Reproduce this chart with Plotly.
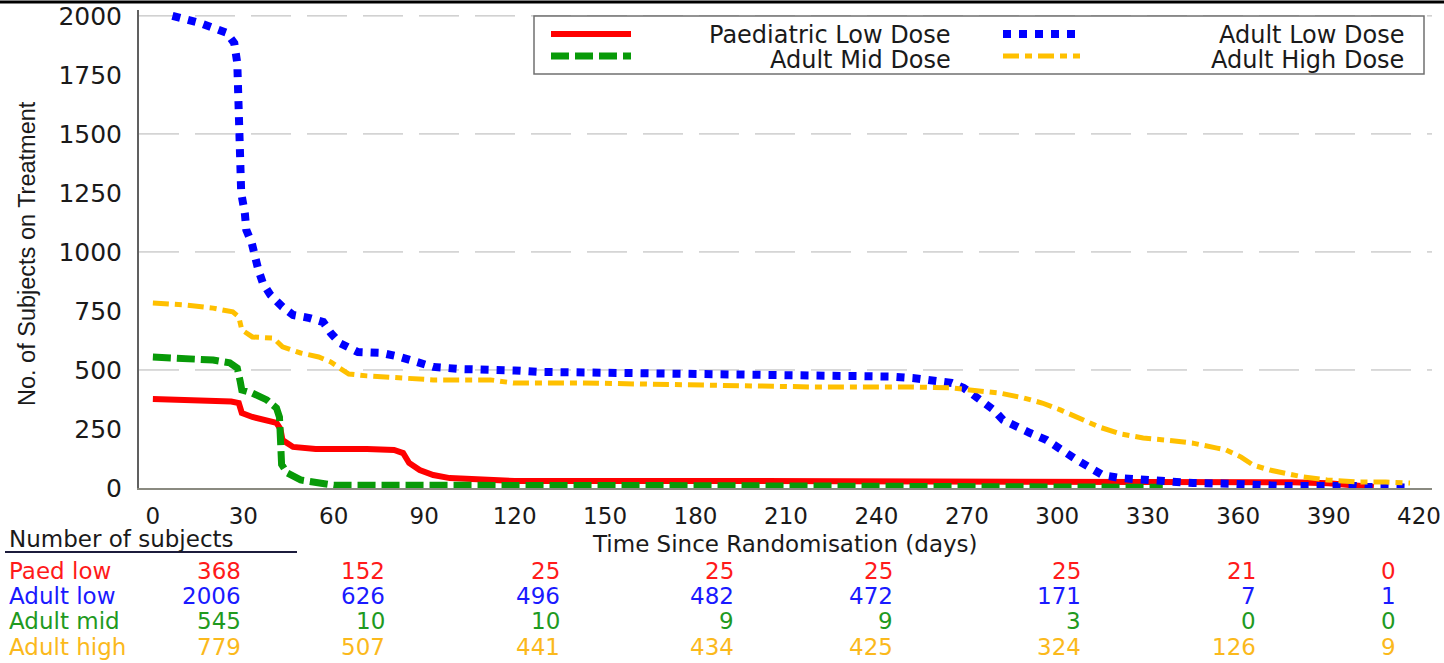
import plotly.graph_objects as go

# ---------------- data ----------------
paed_days = [0, 15, 26, 28.5, 29.5, 33, 38, 41, 42.3, 43, 46.5, 54, 71, 80, 83, 85, 88.5, 93, 98.5, 108,
             120, 180, 240, 300, 360, 368, 378, 390, 400, 405]
paed_vals = [377, 373, 366, 360, 318, 301, 288, 276, 250, 203, 174, 165, 165, 161, 148, 106, 76, 55, 42, 35,
             30, 30, 30, 30, 30, 28, 24, 20, 12, 4]

alow_days = [6.5, 15.5, 24.5, 27, 28, 28.8, 29.3, 30.5, 31, 32.8, 33.5, 35, 36.5, 39, 43, 46.5, 52, 56.5, 59,
             62, 68, 76, 82, 87.5, 93, 102, 110, 120, 128, 140, 180, 220, 235, 245, 252, 259, 265, 269, 274,
             279, 282, 286.5, 291, 296.5, 300, 303, 306.5, 311, 315, 321, 327.5, 334, 345, 358, 367, 376,
             399, 402, 409, 417]
alow_vals = [2000, 1970, 1928, 1885, 1800, 1500, 1250, 1165, 1093, 1038, 987, 924, 868, 818, 767, 733, 720,
             703, 657, 614, 576, 572, 555, 530, 513, 504, 504, 498, 492, 490, 484, 480, 478, 472, 466, 455,
             445, 424, 373, 330, 288, 258, 233, 203, 174, 140, 119, 85, 55, 42, 34, 30, 21, 18, 13, 8, 8, 4,
             4, 1]

amid_days = [0, 11, 20, 25.5, 28, 29, 29.5, 33, 37.8, 41, 42, 42.7, 44.5, 49, 55, 60, 180, 240, 295, 300, 335]
amid_vals = [555, 551, 542, 530, 508, 450, 415, 402, 373, 339, 300, 100, 64, 34, 21, 12, 10, 10, 9, 5, 3]

ahigh_days = [0, 11, 20, 26.5, 28.5, 29.5, 33, 40, 43, 49, 55, 59, 62, 65, 71, 80, 87.5, 93, 112, 119.5,
              142, 186, 219, 252, 265, 271, 281, 289, 295, 301, 307.5, 314, 321, 328.5, 336, 345, 353, 356,
              361, 365, 370.5, 375, 381.5, 389.5, 400, 409, 417]
ahigh_vals = [784, 775, 762, 746, 725, 670, 640, 635, 598, 572, 555, 534, 508, 483, 475, 470, 462, 458, 458,
              445, 445, 436, 428, 428, 424, 415, 402, 381, 360, 331, 297, 258, 229, 212, 203, 190, 169, 161,
              131, 97, 76, 64, 47, 34, 25, 25, 21]

x_ticks = [0, 30, 60, 90, 120, 150, 180, 210, 240, 270, 300, 330, 360, 390, 420]
y_ticks = [0, 250, 500, 750, 1000, 1250, 1500, 1750, 2000]
grid_levels = [500, 1000, 1500, 2000]

legend_names = ["Paediatric Low Dose", "Adult Mid Dose", "Adult Low Dose", "Adult High Dose"]
row_labels = ["Paed low", "Adult low", "Adult mid", "Adult high"]
paed_n = [368, 152, 25, 25, 25, 25, 21, 0]
alow_n = [2006, 626, 496, 482, 472, 171, 7, 1]
amid_n = [545, 10, 10, 9, 9, 3, 0, 0]
ahigh_n = [779, 507, 441, 434, 425, 324, 126, 9]

# ---------------- styles / layout ----------------
RED, BLUE, GREEN, GOLD = "#ff0000", "#0000ff", "#089a08", "#ffc000"
TXT_RED, TXT_BLUE, TXT_GREEN, TXT_GOLD = "#ff1a1a", "#1a1aff", "#1f9a1f", "#fbb91c"
FONT = "DejaVu Sans"
W, H = 1444, 663
L, R, T, B = 139, 12, 10, 175
PW, PH = W - L - R, H - T - B


def px(xp):
    return (xp - L) / PW


def py(yp):
    return (H - B - yp) / PH


styles = [
    dict(color=RED, width=6, dash="solid"),
    dict(color=GREEN, width=7, dash="18px,6px"),
    dict(color=BLUE, width=8, dash="8px,8px"),
    dict(color=GOLD, width=5, dash="16px,6px,7px,6px"),
]
series = [(paed_days, paed_vals), (amid_days, amid_vals), (alow_days, alow_vals), (ahigh_days, ahigh_vals)]

fig = go.Figure()
for (xs, ys), st, nm in zip(series, styles, legend_names):
    fig.add_trace(go.Scatter(x=xs, y=ys, mode="lines", name=nm, line=st, showlegend=False))

shapes = []
for g in grid_levels:
    shapes.append(dict(type="line", xref="paper", yref="y", x0=0, x1=1, y0=g, y1=g,
                       line=dict(color="#b4b4b4", width=1, dash="40px,16px"), layer="below"))
shapes.append(dict(type="line", xref="paper", yref="paper", x0=px(0), x1=px(W), y0=py(2), y1=py(2),
                   line=dict(color="#000000", width=3)))
shapes.append(dict(type="rect", xref="paper", yref="paper", x0=px(534), x1=px(1424), y0=py(74), y1=py(16),
                   line=dict(color="#707070", width=1.5), fillcolor="white"))
leg_pos = [(551, 631, 34, 953, 35), (551, 631, 56, 953, 60), (1003, 1080, 34, 1406, 35), (1003, 1080, 56, 1406, 60)]
annotations = []
for (x0, x1, ly, tx, ty), st, nm in zip(leg_pos, styles, legend_names):
    shapes.append(dict(type="line", xref="paper", yref="paper", x0=px(x0), x1=px(x1), y0=py(ly), y1=py(ly),
                       line=st))
    annotations.append(dict(text=nm, xref="paper", yref="paper", x=px(tx), y=py(ty), xanchor="right",
                            yanchor="middle", showarrow=False, font=dict(family=FONT, size=24, color="#1a1a1a")))
shapes.append(dict(type="line", xref="paper", yref="paper", x0=px(5), x1=px(297), y0=py(552), y1=py(552),
                   line=dict(color="#1c1c3c", width=2)))

annotations.append(dict(text="No. of Subjects on Treatment", xref="paper", yref="paper", x=px(27), y=py(254),
                        textangle=-90, showarrow=False, xanchor="center", yanchor="middle",
                        font=dict(family="Liberation Sans", size=23.5, color="#1a1a1a")))
annotations.append(dict(text="Time Since Randomisation (days)", xref="paper", yref="paper", x=px(785),
                        y=py(544), showarrow=False, xanchor="center", yanchor="middle",
                        font=dict(family=FONT, size=23, color="#1a1a1a")))
annotations.append(dict(text="Number of subjects", xref="paper", yref="paper", x=px(7), y=py(539),
                        showarrow=False, xanchor="left", yanchor="middle",
                        font=dict(family=FONT, size=23, color="#1a1a1a")))

col_right = [243, 387, 562, 736, 895, 1083, 1258, 1398]
row_y = [571, 596, 621, 647]
row_cols = [TXT_RED, TXT_BLUE, TXT_GREEN, TXT_GOLD]
for lab, nums, ry, c in zip(row_labels, [paed_n, alow_n, amid_n, ahigh_n], row_y, row_cols):
    annotations.append(dict(text=lab, xref="paper", yref="paper", x=px(7), y=py(ry), xanchor="left",
                            yanchor="middle", showarrow=False, font=dict(family=FONT, size=23, color=c)))
    for n, cx in zip(nums, col_right):
        annotations.append(dict(text=str(n), xref="paper", yref="paper", x=px(cx), y=py(ry), xanchor="right",
                                yanchor="middle", showarrow=False, font=dict(family=FONT, size=23, color=c)))

fig.update_layout(
    width=W, height=H,
    margin=dict(l=L, r=R, t=T, b=B, autoexpand=False),
    paper_bgcolor="white", plot_bgcolor="white",
    shapes=shapes, annotations=annotations,
    xaxis=dict(range=[-4.6, 424.3], tickvals=x_ticks, ticktext=[str(v) for v in x_ticks], showgrid=False,
               zeroline=False, showline=True, linecolor="#8a8a80", linewidth=2, ticks="", automargin=False,
               ticklabelstandoff=6, tickfont=dict(family=FONT, size=23, color="#1a1a1a")),
    yaxis=dict(range=[0, 2025], tickvals=y_ticks, ticktext=[str(v) for v in y_ticks], showgrid=False,
               zeroline=False, showline=True, linecolor="#606060", linewidth=2, ticks="", automargin=False,
               ticklabelstandoff=10, tickfont=dict(family=FONT, size=25, color="#1a1a1a")),
)

fig.write_html("out.html", config={"displayModeBar": False},
               post_script="document.body.style.margin='0';document.body.style.overflow='hidden';")
